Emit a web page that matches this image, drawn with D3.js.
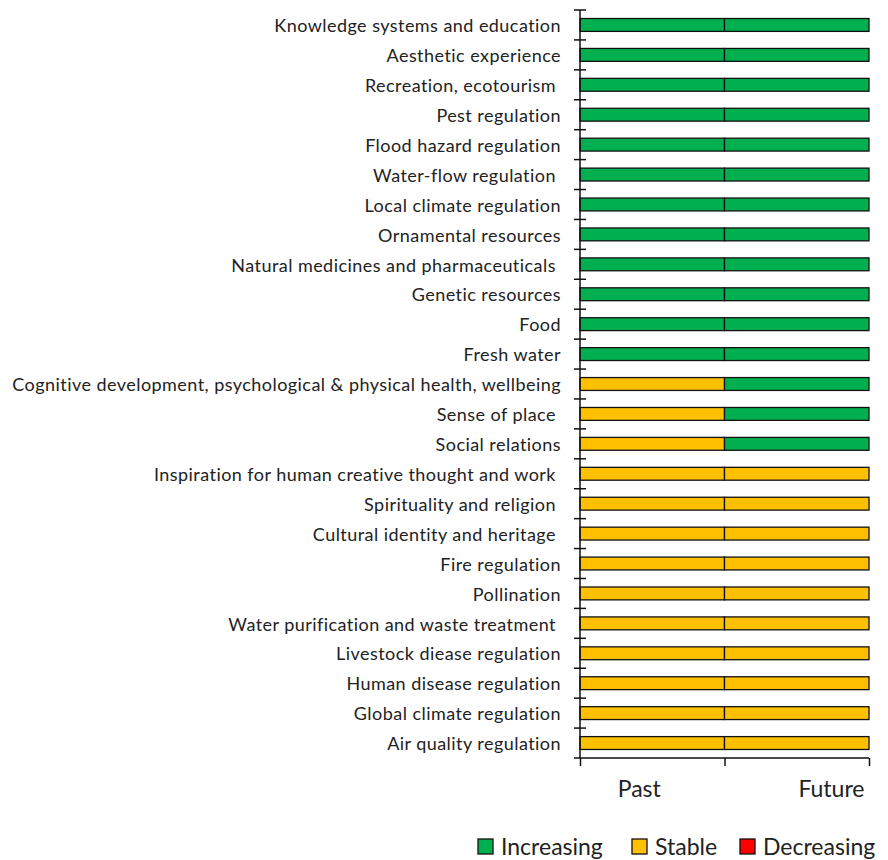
<!DOCTYPE html>
<html><head><meta charset="utf-8">
<script src="https://cdn.jsdelivr.net/npm/d3@7"></script>
<style>body{margin:0;background:#fff}svg{display:block}text{font-family:Lato,"Open Sans",sans-serif;fill:#222}</style>
</head><body><svg id="c" width="888" height="860"></svg>
<script>
const categories = ["Knowledge systems and education","Aesthetic experience","Recreation, ecotourism ","Pest regulation","Flood hazard regulation","Water-flow regulation ","Local climate regulation","Ornamental resources","Natural medicines and pharmaceuticals ","Genetic resources","Food","Fresh water","Cognitive development, psychological & physical health, wellbeing","Sense of place ","Social relations","Inspiration for human creative thought and work ","Spirituality and religion ","Cultural identity and heritage ","Fire regulation","Pollination","Water purification and waste treatment ","Livestock diease regulation","Human disease regulation","Global climate regulation","Air quality regulation"];
const past   = ["Increasing","Increasing","Increasing","Increasing","Increasing","Increasing","Increasing","Increasing","Increasing","Increasing","Increasing","Increasing","Stable","Stable","Stable","Stable","Stable","Stable","Stable","Stable","Stable","Stable","Stable","Stable","Stable"];
const future = ["Increasing","Increasing","Increasing","Increasing","Increasing","Increasing","Increasing","Increasing","Increasing","Increasing","Increasing","Increasing","Increasing","Increasing","Increasing","Stable","Stable","Stable","Stable","Stable","Stable","Stable","Stable","Stable","Stable"];
const periods = ["Past","Future"];
const periodLabelPos = [0.41, 1.74];
const legendItems = ["Increasing","Stable","Decreasing"];
const colors = {Increasing:"#00B050", Stable:"#FFC000", Decreasing:"#FF0000"};

const svg = d3.select("#c");
const y = d3.scaleBand().domain(categories).range([10, 758]).paddingInner(0.57).paddingOuter(0.285);
const x = d3.scaleLinear().domain([0, 2]).range([580, 869]);

const rows = categories.map((c, i) => ({c, vals: [past[i], future[i]]}));
const g = svg.append("g");
rows.forEach(r => {
  r.vals.forEach((v, j) => {
    g.append("rect").attr("x", x(j)).attr("y", y(r.c)).attr("width", x(j+1)-x(j)).attr("height", y.bandwidth())
      .attr("fill", colors[v]).attr("stroke", "#111").attr("stroke-width", 1.3);
  });
});

// Y axis with labels
const yAxis = svg.append("g").attr("transform", `translate(${x(0)},0)`)
  .call(d3.axisLeft(y).tickSize(0).tickPadding(19));
yAxis.select(".domain").remove();
yAxis.selectAll("text").style("font-size", "18px").style("letter-spacing", "0.45px").style("fill", "#222").attr("xml:space","preserve").attr("dy", "0.4em");
svg.append("line").attr("x1", x(0)).attr("x2", x(0)).attr("y1", 10).attr("y2", 758).attr("stroke", "#111").attr("stroke-width", 1.5);
const step = 748 / categories.length;
const bounds = d3.range(categories.length).map(i => 10 + i * step);
svg.selectAll(".bt").data(bounds).enter().append("line")
  .attr("x1", x(0) - 6).attr("x2", x(0) + 6).attr("y1", d => d).attr("y2", d => d)
  .attr("stroke", "#111").attr("stroke-width", 1.5);

// X axis
const xAxis = svg.append("g").attr("transform", "translate(0,758)")
  .call(d3.axisBottom(x).tickValues([0, 1, 2]).tickSize(8).tickFormat(""));
xAxis.select(".domain").attr("stroke", "#111").attr("stroke-width", 1.5).attr("d", `M${x(0)-6},0H${x(2)}`);
xAxis.selectAll("line").attr("stroke", "#111").attr("stroke-width", 1.5);
svg.selectAll(".pl").data(periods).enter().append("text")
  .attr("x", (d, i) => x(periodLabelPos[i])).attr("y", 797).attr("text-anchor", "middle")
  .style("font-size", "23px").text(d => d);

// Legend
const lg = svg.append("g").attr("transform", "translate(0,846)");
const lx = [478, 632, 740];
legendItems.forEach((k, i) => {
  const it = lg.append("g").attr("transform", `translate(${lx[i]},0)`);
  it.append("rect").attr("x", 0).attr("y", -7).attr("width", 15).attr("height", 15).attr("fill", colors[k]).attr("stroke", "#111").attr("stroke-width", 1.3);
  it.append("text").attr("x", 23).attr("y", 1).attr("dy", "0.35em").style("font-size", "23px").text(k);
});
</script></body></html>
